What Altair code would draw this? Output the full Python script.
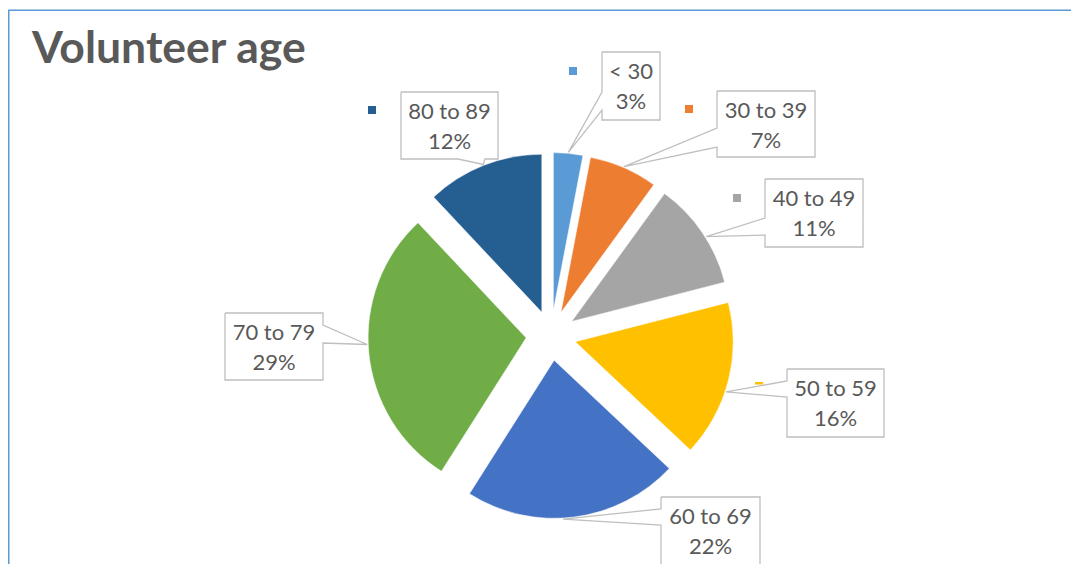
import math
import altair as alt
import pandas as pd

# ---------------- data ----------------
categories = ["< 30", "30 to 39", "40 to 49", "50 to 59", "60 to 69", "70 to 79", "80 to 89"]
percent = [3, 7, 11, 16, 22, 29, 12]
colors = ["#5B9BD5", "#ED7D31", "#A5A5A5", "#FFC000", "#4472C4", "#70AD47", "#255E91"]
title_text = "Volunteer age"

# ---------------- layout (page pixel units) ----------------
W, H = 1063, 556
ORG = 8
CX, CY = 551.0, 335.5
R = 158
EXPLODE = 25

box_left = [602, 717, 765, 787, 661, 225, 401]
box_top = [52, 91, 179, 369, 497, 313, 92]
box_right = [660, 815, 863, 884, 760, 323, 498]
box_bottom = [120, 157, 247, 437, 565, 380, 159]
pointer_side = ["left", "left", "left", "left", "left", "right", "bottom"]
pointer_base = [(40, 58), (37, 56), (39, 56), (12, 28), (12, 28), (12, 30), (57, 84)]
tip_adjust = [0, 0, 2, 4, 4, 3, 0]
# visible part of each legend key: left, top, right, bottom (None = hidden)
key_box = [(569, 67, 577, 75), (685, 105, 693, 113), (733, 194, 741, 202),
           (755, 382, 763, 384.5), None, None, (368, 106, 376, 114)]

# ---------------- derived tables ----------------
def along(x, y, ang, d):
    a = math.radians(ang)
    return x + d * math.sin(a), y - d * math.cos(a)

arc_rows, path_rows, text_rows, key_rows = [], [], [], []
cum = 0
total = sum(percent)
for i, (cat, p) in enumerate(zip(categories, percent)):
    start, end = cum, cum + p
    cum = end
    mid = (start + end) / 2 / total * 360
    ex, ey = along(CX, CY, mid, EXPLODE)
    arc_rows.append({"cat": cat, "start": start, "end": end, "cx": ex, "cy": ey})

    tx, ty = along(ex, ey, mid + tip_adjust[i], R + 1)
    L, T, Rt, B = box_left[i], box_top[i], box_right[i], box_bottom[i]
    b1, b2 = pointer_base[i]
    side = pointer_side[i]
    if side == "left":
        verts = [(L, T), (Rt, T), (Rt, B), (L, B), (L, T + b2), (tx, ty), (L, T + b1), (L, T)]
    elif side == "right":
        verts = [(L, T), (Rt, T), (Rt, T + b1), (tx, ty), (Rt, T + b2), (Rt, B), (L, B), (L, T)]
    else:
        verts = [(L, T), (Rt, T), (Rt, B), (L + b2, B), (tx, ty), (L + b1, B), (L, B), (L, T)]
    for k, (vx, vy) in enumerate(verts):
        path_rows.append({"cat": cat, "k": k, "px": vx, "py": vy})

    text_rows.append({"cat": cat, "line": cat, "tx": (L + Rt) / 2, "ty": T + 27})
    text_rows.append({"cat": cat, "line": f"{p}%", "tx": (L + Rt) / 2, "ty": T + 57})
    if key_box[i] is not None:
        kl, kt, kr, kb = key_box[i]
        key_rows.append({"cat": cat, "kx": kl, "kx2": kr, "ky": kt, "ky2": kb})

arcs = pd.DataFrame(arc_rows)
paths = pd.DataFrame(path_rows)
texts = pd.DataFrame(text_rows)
keys = pd.DataFrame(key_rows)
frame = pd.DataFrame([{"x": 8.75, "x2": 1300, "y": 10.3, "y2": 800}])
title_df = pd.DataFrame([{"t": title_text, "x": 32, "y": 63}])

xs = alt.Scale(domain=[ORG, ORG + W], zero=False, nice=False)
ys = alt.Scale(domain=[ORG, ORG + H], zero=False, nice=False, reverse=True)
cs = alt.Scale(domain=categories, range=colors)

def X(f):
    return alt.X(f, type="quantitative", scale=xs, axis=None)

def Y(f):
    return alt.Y(f, type="quantitative", scale=ys, axis=None)

frame_layer = alt.Chart(frame).mark_rect(
    fill="transparent", stroke="#5B9BD5", strokeWidth=1.5
).encode(x=X("x"), x2="x2", y=Y("y"), y2="y2")

arc_layer = alt.Chart(arcs).mark_arc(radius=R, stroke="white", strokeWidth=0.5).encode(
    x=X("cx"),
    y=Y("cy"),
    theta=alt.Theta("start:Q", stack=None,
                    scale=alt.Scale(domain=[0, total], range=[0, 2 * math.pi])),
    theta2="end:Q",
    color=alt.Color("cat:N", scale=cs, legend=None),
)

key_layer = alt.Chart(keys).mark_rect(opacity=1).encode(
    x=X("kx"), x2="kx2", y=Y("ky"), y2="ky2",
    color=alt.Color("cat:N", scale=cs, legend=None)
)

callout_layer = alt.Chart(paths).mark_line(
    stroke="#BFBFBF", strokeWidth=1.3, interpolate="linear"
).encode(
    x=X("px"), y=Y("py"), order=alt.Order("k:Q"), detail=alt.Detail("cat:N")
)

text_layer = alt.Chart(texts).mark_text(
    font="Lato", fontSize=22, color="#595959", align="center", baseline="alphabetic"
).encode(x=X("tx"), y=Y("ty"), text="line:N")

title_layer = alt.Chart(title_df).mark_text(
    font="Lato", fontSize=44.5, fontWeight="bold", color="#595959",
    align="left", baseline="alphabetic"
).encode(x=X("x"), y=Y("y"), text="t:N")

chart = alt.layer(
    frame_layer, arc_layer, key_layer, callout_layer, text_layer, title_layer
).properties(
    width=W, height=H, padding=0,
    autosize=alt.AutoSizeParams(type="none"),
).configure_view(stroke=None)

chart.save("out.html", embed_options={"renderer": "svg", "actions": False})
